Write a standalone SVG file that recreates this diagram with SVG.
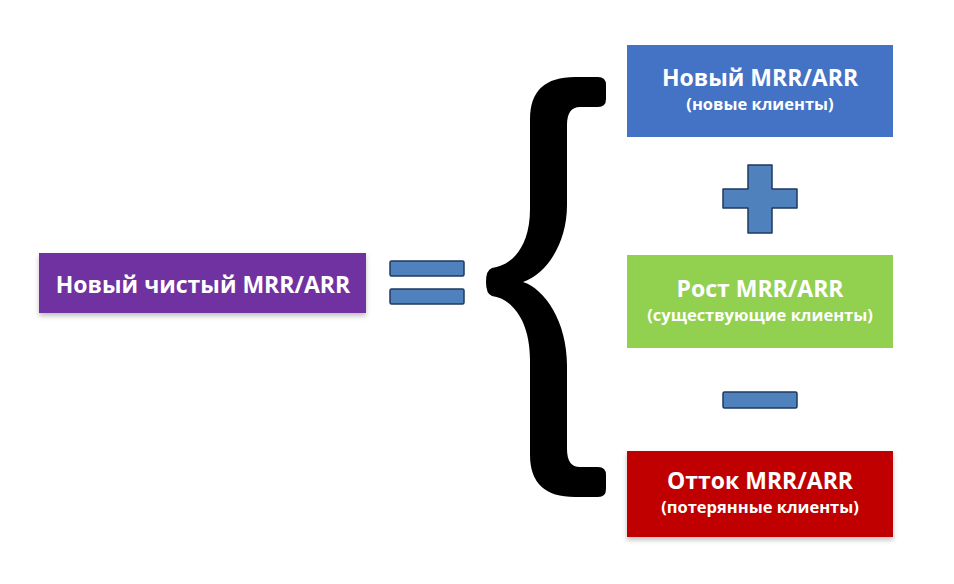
<svg xmlns="http://www.w3.org/2000/svg" width="954" height="584" viewBox="0 0 954 584">
<defs>
<filter id="sh" x="-10%" y="-20%" width="120%" height="150%">
<feDropShadow dx="0" dy="3" stdDeviation="2.5" flood-color="#000" flood-opacity="0.25"/>
</filter>
</defs>
<style>
.t1{font-family:"Open Sans","Noto Sans","Liberation Sans",sans-serif;font-weight:bold;font-size:23px;fill:#fff;text-anchor:middle}
.t2{font-family:"Open Sans","Noto Sans","Liberation Sans",sans-serif;font-weight:bold;font-size:16.5px;fill:#fff;text-anchor:middle}
.op{fill:#4F81BD;stroke:#1F3A60;stroke-width:1.5;stroke-linejoin:round}
</style>
<rect width="954" height="584" fill="#fff"/>
<g id="total">
<rect x="39" y="253" width="327" height="60" fill="#7030A0" filter="url(#sh)"/>
<text class="t1" x="203" y="293">Новый чистый MRR/ARR</text>
</g>
<g id="equals">
<rect class="op" x="390" y="261" width="74" height="15" rx="1.5"/>
<rect class="op" x="390" y="289" width="74" height="15" rx="1.5"/>
</g>
<g id="brace">
<path fill="#000" d="M 575 77 L 598 77 Q 606 77 606 85 L 606 99 Q 606 107 598 107 L 580 107 Q 567 107 567 125 L 567 205 C 567 245 545 275 523 282 C 545 289 567 322 567 365 L 567 449 Q 567 467 580 467 L 598 467 Q 606 467 606 475 L 606 489 Q 606 497 598 497 L 575 497 Q 530 497 530 455 L 530 360 C 530 318 510 298 492 296 Q 486 294 486 282 Q 486 270 492 268 C 510 266 530 249 530 209 L 530 119 Q 530 77 575 77 Z"/>
</g>
<g id="new">
<rect x="627" y="45" width="266" height="92" fill="#4472C4"/>
<text class="t1" x="760" y="86">Новый MRR/ARR</text>
<text class="t2" x="760" y="110">(новые клиенты)</text>
</g>
<g id="plus">
<path class="op" d="M748 165 H772 V189 H797 V208 H772 V233 H748 V208 H723 V189 H748 Z"/>
</g>
<g id="growth">
<rect x="627" y="255" width="266" height="93" fill="#92D050"/>
<text class="t1" x="760" y="297">Рост MRR/ARR</text>
<text class="t2" x="760" y="321">(существующие клиенты)</text>
</g>
<g id="minus">
<rect class="op" x="723" y="392" width="74" height="16" rx="1.5"/>
</g>
<g id="churn">
<rect x="627" y="451" width="266" height="86" fill="#C00000" filter="url(#sh)"/>
<text class="t1" x="760" y="489">Отток MRR/ARR</text>
<text class="t2" x="760" y="513">(потерянные клиенты)</text>
</g>
<g id="connectors"/>
</svg>
